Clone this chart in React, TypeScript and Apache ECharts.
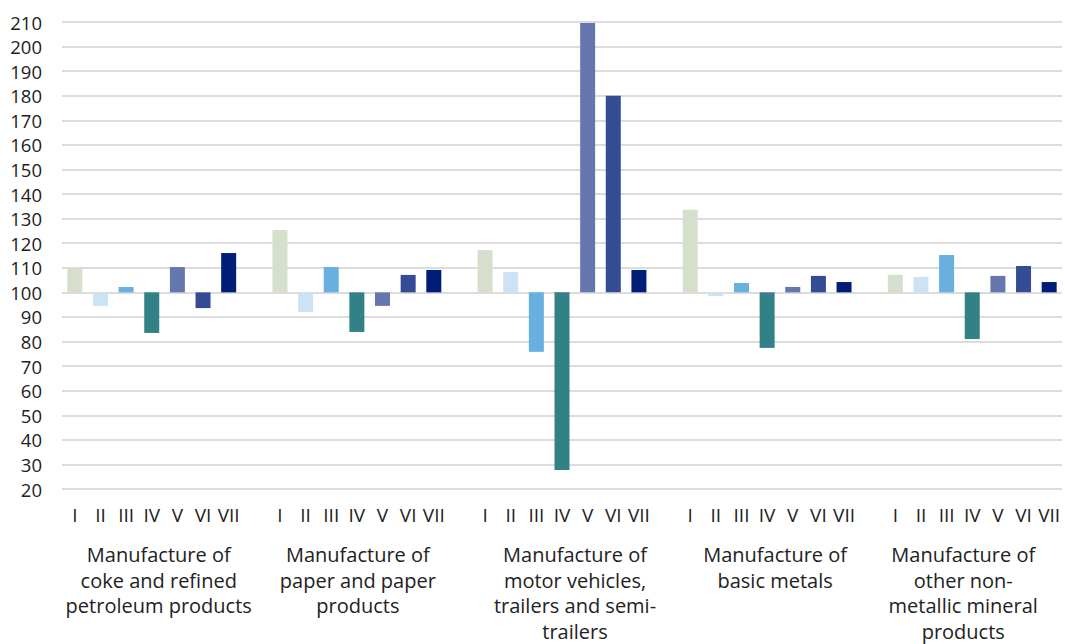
import React, { useEffect, useRef } from "react";
import * as echarts from "echarts";

const months = ["I", "II", "III", "IV", "V", "VI", "VII"];
const groupNames = [
  "Manufacture of\ncoke and refined\npetroleum products",
  "Manufacture of\npaper and paper\nproducts",
  "Manufacture of\nmotor vehicles,\ntrailers and semi-\ntrailers",
  "Manufacture of\nbasic metals",
  "Manufacture of\nother non-\nmetallic mineral\nproducts",
];
const cokeValues = [109.8, 94.5, 102.2, 83.5, 110.3, 93.6, 116.0];
const paperValues = [125.4, 92.0, 110.3, 83.9, 94.5, 107.1, 109.1];
const motorValues = [117.2, 108.3, 75.8, 27.7, 209.6, 180.0, 109.1];
const metalsValues = [133.6, 98.5, 103.8, 77.4, 102.2, 106.7, 104.2];
const mineralValues = [107.1, 106.3, 115.2, 81.0, 106.7, 110.7, 104.2];
const groupValues = [cokeValues, paperValues, motorValues, metalsValues, mineralValues];
const monthColors = ["#d5dfcc", "#cde3f3", "#67b0df", "#318186", "#6677ae", "#344b95", "#001e77"];
const baseline = 100;
const yTicks = { min: 20, max: 210, interval: 10 };

export default function App() {
  const ref = useRef<HTMLDivElement>(null);
  useEffect(() => {
    if (!ref.current) return;
    const chart = echarts.init(ref.current, null, { renderer: "svg" });

    const categories: string[] = [];
    const groupLabels: string[] = [];
    const baseData: any[] = [];
    const barData: any[] = [];
    groupValues.forEach((vals, g) => {
      vals.forEach((v, i) => {
        categories.push(months[i]);
        groupLabels.push(i === 3 ? `{g${g}|${groupNames[g]}}` : "");
        baseData.push(Math.min(v, baseline));
        barData.push({
          value: Math.abs(v - baseline),
          itemStyle: { color: monthColors[i] },
        });
      });
      if (g < groupValues.length - 1) {
        categories.push("");
        groupLabels.push("");
        baseData.push("-");
        barData.push("-");
      }
    });

    const font = "'Open Sans', 'Noto Sans', sans-serif";
    const textColor = "#222222";
    const groupStyle = (pad: number[]) => ({
      fontFamily: font,
      fontSize: 20,
      fontWeight: 500,
      lineHeight: 25.5,
      color: textColor,
      align: "center",
      padding: pad,
    });
    chart.setOption({
      animation: false,
      grid: { left: 62, right: 3, top: 22, bottom: 155, containLabel: false },
      xAxis: [
        {
          type: "category",
          data: categories,
          axisLine: { show: false },
          axisTick: { show: false },
          axisLabel: {
            interval: 0,
            fontFamily: font,
            fontSize: 19,
            fontWeight: 500,
            color: textColor,
            margin: 16,
          },
        },
        {
          type: "category",
          data: groupLabels,
          position: "bottom",
          axisLine: { show: false },
          axisTick: { show: false },
          axisLabel: {
            interval: 0,
            fontFamily: font,
            fontSize: 20,
            lineHeight: 25.5,
            color: textColor,
            margin: 53,
            align: "center",
            rich: {
              g0: groupStyle([0, 0, 0, 14]),
              g1: groupStyle([0, 0, 0, 2]),
              g2: groupStyle([0, 0, 0, 26]),
              g3: groupStyle([0, 0, 0, 16]),
              g4: groupStyle([0, 18, 0, 0]),
            },
          },
        },
      ],
      yAxis: {
        type: "value",
        min: yTicks.min,
        max: yTicks.max,
        interval: yTicks.interval,
        axisLine: { show: false },
        axisTick: { show: false },
        axisLabel: { fontFamily: font, fontSize: 18.5, fontWeight: 500, color: textColor, margin: 20 },
        splitLine: { lineStyle: { color: "#dcdcdc", width: 2 } },
      },
      series: [
        {
          type: "bar",
          stack: "s",
          data: baseData,
          barWidth: 15,
          itemStyle: { color: "transparent" },
          silent: true,
        },
        {
          type: "bar",
          stack: "s",
          data: barData,
          barWidth: 15,
        },
      ],
    });
    return () => chart.dispose();
  }, []);
  return <div ref={ref} style={{ width: 1065, height: 644, position: "absolute", left: 0, top: 0 }} />;
}
